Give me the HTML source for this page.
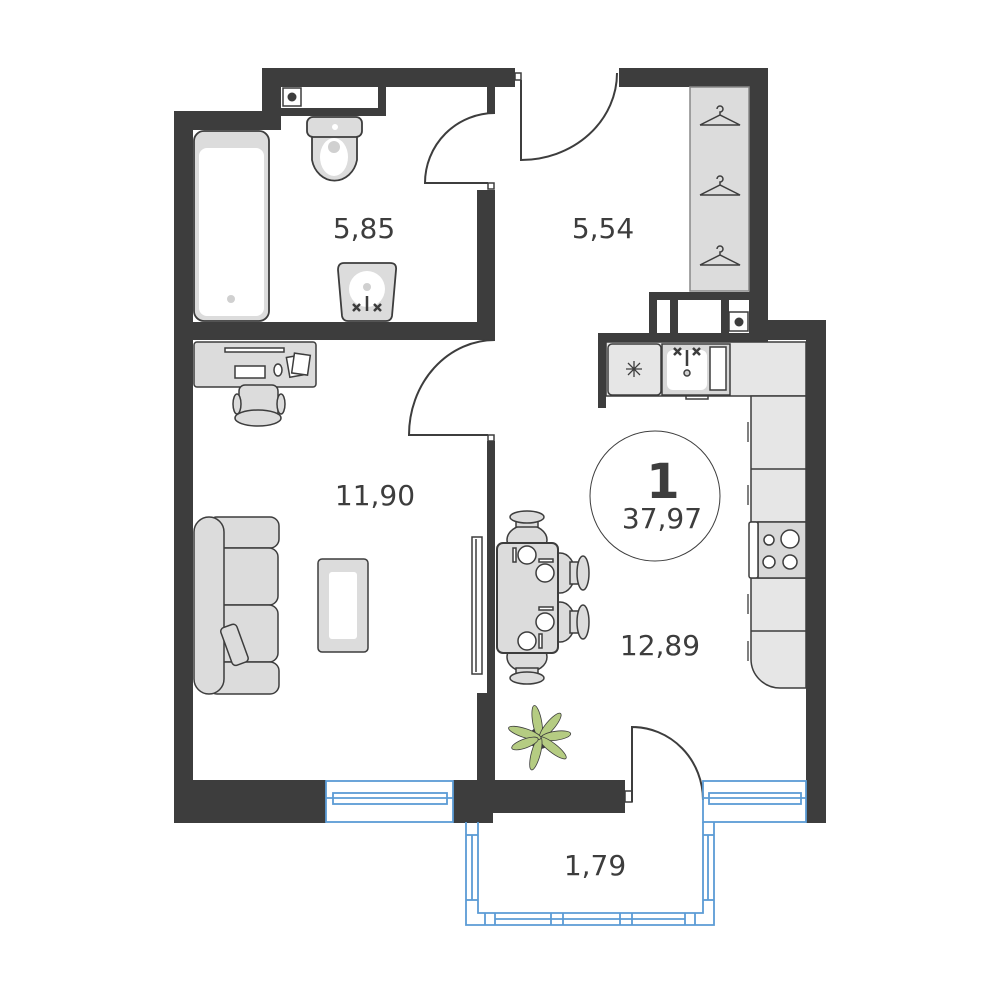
<!DOCTYPE html>
<html><head><meta charset="utf-8"><style>
html,body{margin:0;padding:0;background:#fff}
svg{display:block}
text{font-family:"DejaVu Sans","Liberation Sans",sans-serif;fill:#3d3d3d}
</style></head><body>
<svg width="1000" height="1000" viewBox="0 0 1000 1000" xmlns="http://www.w3.org/2000/svg">
<g fill="#3d3d3d">
<rect x="262" y="68" width="253" height="19"/>
<rect x="262" y="68" width="19" height="62"/>
<rect x="174" y="111" width="107" height="19"/>
<rect x="174" y="111" width="19" height="712"/>
<rect x="378" y="87" width="8" height="29"/>
<rect x="281" y="108" width="105" height="8"/>
<rect x="487" y="87" width="8" height="26"/>
<rect x="477" y="190" width="18" height="150"/>
<rect x="193" y="322" width="302" height="18"/>
<rect x="619" y="68" width="149" height="19"/>
<rect x="749" y="68" width="19" height="272"/>
<rect x="749" y="320" width="77" height="20"/>
<rect x="806" y="320" width="20" height="503"/>
<rect x="649" y="292" width="100" height="8"/>
<rect x="649" y="292" width="8" height="45"/>
<rect x="670" y="300" width="8" height="37"/>
<rect x="721" y="300" width="8" height="37"/>
<rect x="598" y="333" width="170" height="9"/>
<rect x="598" y="333" width="8" height="75"/>
<rect x="487" y="441" width="8" height="252"/>
<rect x="477" y="693" width="18" height="90"/>
<rect x="174" y="780" width="152" height="43"/>
<rect x="453" y="780" width="172" height="33"/>
<rect x="453" y="780" width="40" height="43"/>
</g>
<g fill="#fff" stroke="#3d3d3d" stroke-width="1.5">
<rect x="283" y="88" width="18" height="18"/>
<rect x="729" y="312" width="19" height="19"/>
<rect x="488" y="183" width="6" height="6"/>
<rect x="515" y="73" width="6" height="7"/>
<rect x="488" y="435" width="6" height="6"/>
<rect x="625" y="791" width="7" height="11"/>
</g>
<circle cx="292" cy="97" r="4.5" fill="#3d3d3d"/>
<circle cx="739" cy="322" r="4.5" fill="#3d3d3d"/>
<g fill="none" stroke="#3d3d3d" stroke-width="2">
<path d="M495 113 A70 70 0 0 0 425 183 L488 183"/>
<path d="M617 73 A96 87 0 0 1 521 160 L521 80"/>
<path d="M495 340 A86 95 0 0 0 409 435 L488 435"/>
<path d="M632 802 L632 727 A71 73 0 0 1 703 800"/>
</g>
<g fill="none" stroke="#5b9bd5" stroke-width="1.8">
<rect x="326" y="781" width="127" height="41"/>
<rect x="333" y="793" width="114" height="11"/>
<line x1="326" y1="798" x2="453" y2="798"/>
<rect x="703" y="781" width="103" height="41"/>
<rect x="709" y="793" width="92" height="11"/>
<line x1="703" y1="798" x2="806" y2="798"/>
<path d="M466 822 L466 925 L714 925 L714 822"/>
<path d="M478 822 L478 913 L703 913 L703 822"/>
<line x1="472" y1="835" x2="472" y2="900"/>
<line x1="708" y1="835" x2="708" y2="900"/>
<line x1="466" y1="835" x2="478" y2="835"/><line x1="466" y1="900" x2="478" y2="900"/>
<line x1="703" y1="835" x2="714" y2="835"/><line x1="703" y1="900" x2="714" y2="900"/>
<line x1="495" y1="919" x2="685" y2="919"/>
<line x1="485" y1="913" x2="485" y2="925"/><line x1="495" y1="913" x2="495" y2="925"/>
<line x1="551" y1="913" x2="551" y2="925"/><line x1="563" y1="913" x2="563" y2="925"/>
<line x1="620" y1="913" x2="620" y2="925"/><line x1="632" y1="913" x2="632" y2="925"/>
<line x1="685" y1="913" x2="685" y2="925"/><line x1="695" y1="913" x2="695" y2="925"/>
</g>
<rect x="690" y="87" width="59" height="204" fill="#dcdcdc" stroke="#888" stroke-width="1.5"/>
<g fill="none" stroke="#3d3d3d" stroke-width="1.5">
<path d="M700 125 L740 125 L720 115 L700 125 M720 115 L720 112 a3 3 0 1 0 -3 -3"/>
<path d="M700 195 L740 195 L720 185 L700 195 M720 185 L720 182 a3 3 0 1 0 -3 -3"/>
<path d="M700 265 L740 265 L720 255 L700 265 M720 255 L720 252 a3 3 0 1 0 -3 -3"/>
</g>
<g stroke="#3d3d3d" stroke-width="1.8">
<rect x="194" y="131" width="75" height="190" rx="10" fill="#dcdcdc"/>
<rect x="199" y="148" width="65" height="168" rx="8" fill="#fff" stroke="none"/>
<circle cx="231" cy="299" r="4" fill="#d0d0d0" stroke="none"/>
<path d="M312 135 L357 135 L357 160 A23 26 0 0 1 312 160 Z" fill="#dcdcdc"/>
<ellipse cx="334" cy="157" rx="14" ry="19" fill="#fff" stroke="none"/>
<circle cx="334" cy="147" r="6" fill="#d0d0d0" stroke="none"/>
<rect x="307" y="117" width="55" height="20" rx="6" fill="#dcdcdc"/>
<circle cx="335" cy="127" r="3" fill="#fff" stroke="none"/>
<path d="M344 263 L390 263 Q397 263 396 270 L392 316 Q391 321 386 321 L348 321 Q343 321 342 316 L338 270 Q338 263 344 263 Z" fill="#dcdcdc"/>
<circle cx="367" cy="289" r="18" fill="#fff" stroke="none"/>
<circle cx="367" cy="287" r="4" fill="#d0d0d0" stroke="none"/>
</g>
<g stroke="#3d3d3d" stroke-width="2.5"><line x1="367" y1="296" x2="367" y2="311"/>
<path d="M353 304 l7 7 M360 304 l-7 7 M374 304 l7 7 M381 304 l-7 7"/></g>
<g stroke="#3d3d3d" stroke-width="1.5">
<rect x="194" y="342" width="122" height="45" rx="3" fill="#dcdcdc"/>
<rect x="225" y="348" width="59" height="4" fill="#fff"/>
<rect x="235" y="366" width="30" height="12" fill="#fff"/>
<ellipse cx="278" cy="370" rx="4" ry="6" fill="#fff"/>
<rect x="288" y="356" width="17" height="20" fill="#fff" transform="rotate(-10 296 366)"/>
<rect x="293" y="354" width="16" height="20" fill="#fff" transform="rotate(8 300 364)"/>
<rect x="239" y="385" width="39" height="33" rx="6" fill="#dcdcdc"/>
<ellipse cx="237" cy="404" rx="4" ry="10" fill="#dcdcdc"/>
<ellipse cx="281" cy="404" rx="4" ry="10" fill="#dcdcdc"/>
<ellipse cx="258" cy="418" rx="23" ry="8" fill="#dcdcdc"/>
</g>
<g stroke="#3d3d3d" stroke-width="1.5" fill="#dcdcdc">
<rect x="208" y="517" width="71" height="31" rx="9"/>
<rect x="208" y="548" width="70" height="57" rx="9"/>
<rect x="208" y="605" width="70" height="57" rx="9"/>
<rect x="208" y="662" width="71" height="32" rx="9"/>
<rect x="194" y="517" width="30" height="177" rx="15"/>
<rect x="226" y="625" width="17" height="40" rx="4" transform="rotate(-20 234 645)"/>
<rect x="318" y="559" width="50" height="93" rx="4"/>
<rect x="329" y="572" width="28" height="67" rx="3" fill="#fff" stroke="none"/>
<rect x="472" y="537" width="10" height="137" fill="#fff"/>
<line x1="476" y1="539" x2="476" y2="672"/>
</g>
<g stroke="#3d3d3d" stroke-width="1.5" fill="#dcdcdc">
<ellipse cx="527" cy="540" rx="20" ry="15"/>
<rect x="516" y="517" width="22" height="10"/>
<ellipse cx="527" cy="517" rx="17" ry="6"/>
<ellipse cx="527" cy="657" rx="20" ry="15"/>
<rect x="516" y="668" width="22" height="10"/>
<ellipse cx="527" cy="678" rx="17" ry="6"/>
<ellipse cx="560" cy="573" rx="15" ry="20"/>
<rect x="570" y="562" width="10" height="22"/>
<ellipse cx="583" cy="573" rx="6" ry="17"/>
<ellipse cx="560" cy="622" rx="15" ry="20"/>
<rect x="570" y="611" width="10" height="22"/>
<ellipse cx="583" cy="622" rx="6" ry="17"/>
<rect x="497" y="543" width="61" height="110" rx="6" stroke-width="2"/>
<g fill="#fff"><circle cx="527" cy="555" r="9"/><circle cx="545" cy="573" r="9"/><circle cx="545" cy="622" r="9"/><circle cx="527" cy="641" r="9"/>
<rect x="513" y="548" width="3" height="14"/><rect x="539" y="559" width="14" height="3"/><rect x="539" y="607" width="14" height="3"/><rect x="539" y="634" width="3" height="14"/></g>
</g>
<!-- plant -->
<circle cx="540" cy="738" r="11" fill="#3d3d3d"/>
<g stroke="#3d3d3d" stroke-width="0.8" fill="#b5cc82">
<ellipse cx="540" cy="722" rx="4.5" ry="17" transform="rotate(-10 540 738)"/>
<ellipse cx="540" cy="722" rx="4.5" ry="16" transform="rotate(40 540 738)"/>
<ellipse cx="540" cy="722" rx="4.5" ry="15" transform="rotate(82 540 738)"/>
<ellipse cx="540" cy="722" rx="4.5" ry="17" transform="rotate(128 540 738)"/>
<ellipse cx="540" cy="722" rx="4.5" ry="17" transform="rotate(195 540 738)"/>
<ellipse cx="540" cy="722" rx="4.5" ry="17" transform="rotate(-72 540 738)"/>
<ellipse cx="540" cy="722" rx="4.5" ry="14" transform="rotate(-110 540 738)"/>
</g>
<g stroke="#3d3d3d" stroke-width="1.5" fill="#e6e6e6">
<rect x="606" y="342" width="200" height="54"/>
<rect x="608" y="344" width="53" height="51" rx="4"/>
<rect x="662" y="344" width="68" height="51" fill="#d8d8d8"/>
<rect x="667" y="350" width="40" height="40" rx="6" fill="#fff" stroke="none"/>
<rect x="710" y="347" width="16" height="43" fill="#fff"/>
<path d="M751 396 L806 396 L806 688 L780 688 A29 29 0 0 1 751 659 Z"/>
<line x1="751" y1="469" x2="806" y2="469"/>
<line x1="751" y1="522" x2="806" y2="522"/>
<line x1="751" y1="578" x2="806" y2="578"/>
<line x1="751" y1="631" x2="806" y2="631"/>
<rect x="758" y="522" width="48" height="56" fill="#d8d8d8"/>
<rect x="749" y="522" width="9" height="56" rx="2" fill="#fff"/>
<g fill="#fff"><circle cx="769" cy="540" r="5"/><circle cx="790" cy="539" r="9"/><circle cx="769" cy="562" r="6"/><circle cx="790" cy="562" r="7"/></g>
<ellipse cx="687" cy="373" rx="3" ry="3" fill="#d0d0d0"/>
<rect x="686" y="396" width="22" height="3" fill="#fff"/>
</g>
<g stroke="#3d3d3d" stroke-width="1.3">
<path d="M748 422v20M748 485v20M748 594v20M748 641v20"/>
<path d="M626 369h16M634 361v16M628 363l12 12M640 363l-12 12"/>
</g>
<g stroke="#3d3d3d" stroke-width="2.5"><line x1="687" y1="350" x2="687" y2="366"/>
<path d="M674 348 l7 7 M681 348 l-7 7 M693 348 l7 7 M700 348 l-7 7"/></g>
<circle cx="655" cy="496" r="65" fill="none" stroke="#3d3d3d" stroke-width="1"/>
<text x="663" y="498" font-size="48" font-weight="bold" text-anchor="middle">1</text>
<text x="662" y="528" font-size="28" text-anchor="middle">37,97</text>
<text x="364" y="238" font-size="28" text-anchor="middle">5,85</text>
<text x="603" y="238" font-size="28" text-anchor="middle">5,54</text>
<text x="375" y="505" font-size="28" text-anchor="middle">11,90</text>
<text x="660" y="655" font-size="28" text-anchor="middle">12,89</text>
<text x="595" y="875" font-size="28" text-anchor="middle">1,79</text>
</svg>
</body></html>
